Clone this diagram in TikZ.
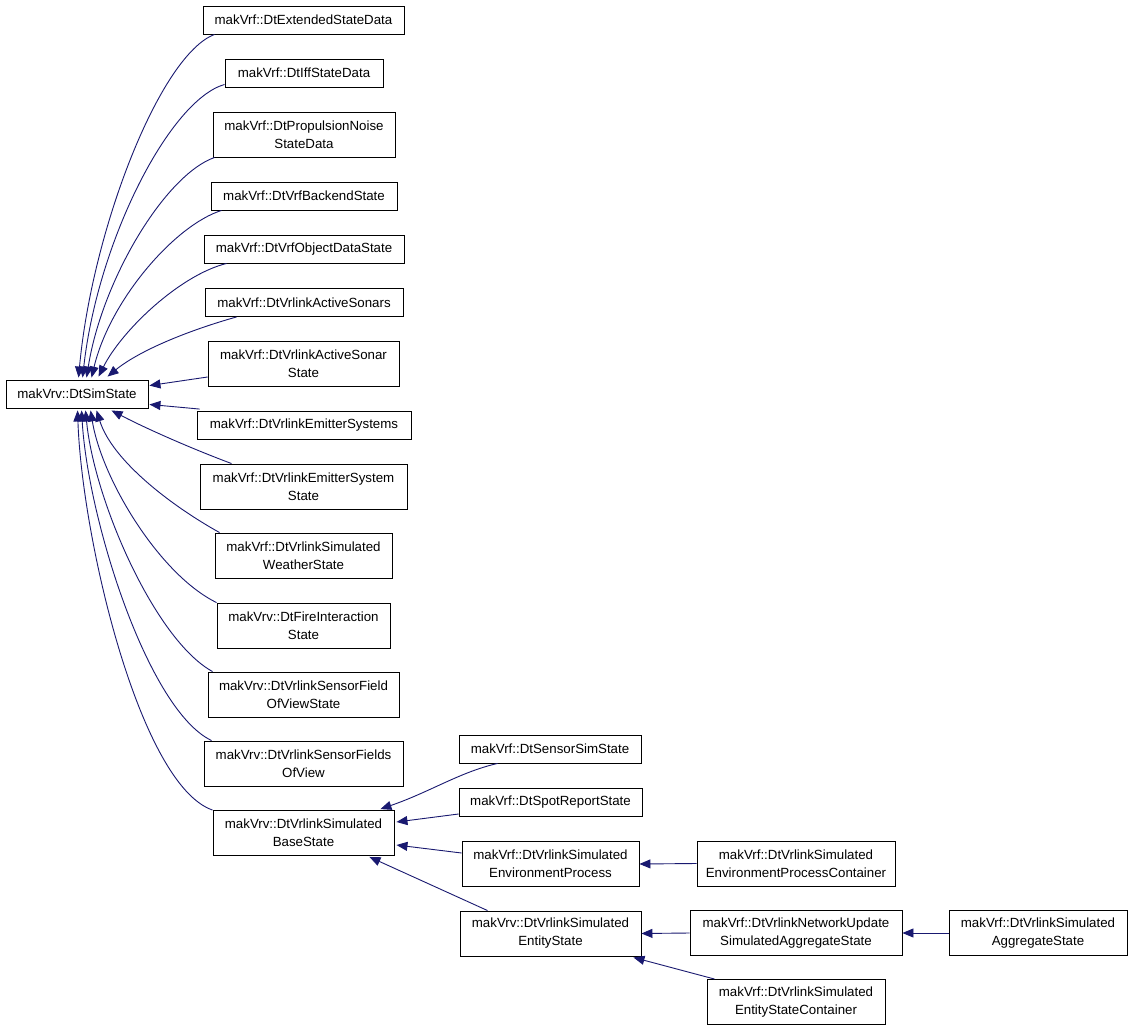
\documentclass[tikz,border=0pt]{standalone}
\usepackage{fontspec}
\setmainfont{Liberation Sans}
\usetikzlibrary{arrows.meta,calc}
\definecolor{edgeblue}{HTML}{191970}
\begin{document}
\begin{tikzpicture}[x=1pt,y=-1pt,
  cls/.style={draw=black,line width=0.9pt,fill=white,inner sep=0pt,align=center,
    font=\fontsize{13.3}{18}\selectfont},
  one/.style={cls,minimum height=28pt},
  two/.style={cls,minimum height=45pt},
  edge/.style={draw=edgeblue,line width=0.9pt,-{Triangle[length=11pt,width=9pt]}}]
\useasboundingbox[fill=white] (0,0) rectangle (1133,1031);

\node[one,minimum width=142pt] (sim) at (77,394) {makVrv::DtSimState};
\node[one,minimum width=201pt] (ext) at (303.5,20) {makVrf::DtExtendedStateData};
\node[one,minimum width=158pt] (iff) at (304,73) {makVrf::DtIffStateData};
\node[two,minimum width=182pt] (prop) at (304,134.5) {makVrf::DtPropulsionNoise\\StateData};
\node[one,minimum width=186pt] (back) at (304,196) {makVrf::DtVrfBackendState};
\node[one,minimum width=200pt] (objd) at (304,249) {makVrf::DtVrfObjectDataState};
\node[one,minimum width=198pt] (sonars) at (304,302.5) {makVrf::DtVrlinkActiveSonars};
\node[two,minimum width=191pt] (sonst) at (303.5,364) {makVrf::DtVrlinkActiveSonar\\State};
\node[one,minimum width=214pt] (emits) at (304,425.5) {makVrf::DtVrlinkEmitterSystems};
\node[two,minimum width=207pt] (emitst) at (303.5,486.5) {makVrf::DtVrlinkEmitterSystem\\State};
\node[two,minimum width=177pt] (weather) at (303.5,555.5) {makVrf::DtVrlinkSimulated\\WeatherState};
\node[two,minimum width=173pt] (fire) at (303.5,625.5) {makVrv::DtFireInteraction\\State};
\node[two,minimum width=191pt] (sfov) at (303.5,694.5) {makVrv::DtVrlinkSensorField\\OfViewState};
\node[two,minimum width=199pt] (sfsov) at (303.5,763.5) {makVrv::DtVrlinkSensorFields\\OfView};
\node[two,minimum width=181pt] (base) at (303.5,833) {makVrv::DtVrlinkSimulated\\BaseState};
\node[one,minimum width=182pt] (sensor) at (550,749) {makVrf::DtSensorSimState};
\node[one,minimum width=183pt] (spot) at (550.5,802) {makVrf::DtSpotReportState};
\node[two,minimum width=177pt] (envp) at (550.5,864) {makVrf::DtVrlinkSimulated\\EnvironmentProcess};
\node[two,minimum width=181pt] (ent) at (550.5,933.5) {makVrv::DtVrlinkSimulated\\EntityState};
\node[two,minimum width=198pt] (envc) at (796,863.5) {makVrf::DtVrlinkSimulated\\EnvironmentProcessContainer};
\node[two,minimum width=212pt] (netu) at (796,933) {makVrf::DtVrlinkNetworkUpdate\\SimulatedAggregateState};
\node[two,minimum width=178pt] (agg) at (1038,933) {makVrf::DtVrlinkSimulated\\AggregateState};
\node[two,minimum width=178pt] (entc) at (796,1002) {makVrf::DtVrlinkSimulated\\EntityStateContainer};

% edges into DtSimState (top)
\draw[edge] ($(ext.south west)+(12,0)$) .. controls (160,55) and (92,230) .. ($(sim.north west)+(73,-2)$);
\draw[edge] ($(iff.south west)+(0,-3)$) .. controls (170,100) and (98,240) .. ($(sim.north west)+(77,-2)$);
\draw[edge] ($(prop.south west)+(2,0)$) .. controls (165,175) and (102,280) .. ($(sim.north west)+(81,-2)$);
\draw[edge] ($(back.south west)+(11,0)$) .. controls (175,225) and (110,300) .. ($(sim.north west)+(86,-2)$);
\draw[edge] ($(objd.south west)+(23,0)$) .. controls (180,275) and (122,330) .. ($(sim.north west)+(93,-3)$);
\draw[edge] ($(sonars.south west)+(32,0)$) .. controls (190,330) and (140,350) .. ($(sim.north west)+(102,-3)$);
\draw[edge] ($(sonst.west)+(0,13)$) -- ($(sim.north east)+(1,6)$);
\draw[edge] ($(emits.north west)+(3,-2)$) -- ($(sim.south east)+(1,-4)$);
% edges into DtSimState (bottom)
\draw[edge] ($(emitst.north west)+(32,0)$) .. controls (190,448) and (145,428) .. ($(sim.south west)+(106,2)$);
\draw[edge] ($(weather.north west)+(5,0)$) .. controls (170,505) and (112,460) .. ($(sim.south west)+(91,2)$);
\draw[edge] ($(fire.north west)+(0,0)$) .. controls (160,575) and (102,480) .. ($(sim.south west)+(85,2)$);
\draw[edge] ($(sfov.north west)+(5,0)$) .. controls (155,640) and (94,500) .. ($(sim.south west)+(80,2)$);
\draw[edge] ($(sfsov.north west)+(8,0)$) .. controls (148,710) and (88,520) .. ($(sim.south west)+(76,2)$);
\draw[edge] ($(base.north west)+(0,0)$) .. controls (140,785) and (82,540) .. ($(sim.south west)+(72,2)$);

% edges into BaseState
\draw[edge] ($(sensor.south west)+(39,0)$) .. controls (460,772) and (430,792) .. ($(base.north east)+(-14,-1)$);
\draw[edge] ($(spot.west)+(0,12)$) -- ($(base.east)+(2,-11)$);
\draw[edge] ($(envp.west)+(0,-11)$) -- ($(base.east)+(2,12)$);
\draw[edge] ($(ent.north west)+(28,0)$) -- ($(base.south east)+(-25,1)$);

% right part
\draw[edge] (envc.west) -- (envp.east);
\draw[edge] (netu.west) -- (ent.east);
\draw[edge] (agg.west) -- (netu.east);
\draw[edge] ($(entc.north west)+(8,0)$) -- ($(ent.south east)+(-8,1)$);
\end{tikzpicture}
\end{document}
